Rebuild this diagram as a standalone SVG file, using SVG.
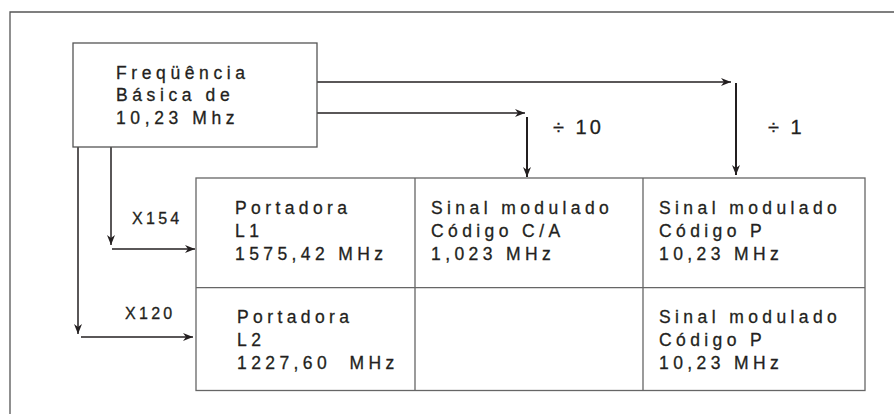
<svg xmlns="http://www.w3.org/2000/svg" width="894" height="414" viewBox="0 0 894 414">
<style>
.frame{fill:none;stroke:#555;stroke-width:1.3}
.box{fill:#fff;stroke:#555;stroke-width:1.3}
.grid{fill:none;stroke:#666;stroke-width:1.3}
.con{fill:none;stroke:#231f20;stroke-width:1.5}
.vcon{fill:none;stroke:#231f20;stroke-width:2}
text{font-family:"Liberation Sans",Arial,sans-serif;fill:#231f20;stroke:#231f20;stroke-width:0.3;white-space:pre}
.t{font-size:17.5px;letter-spacing:4.4px}
.tb{font-size:17.5px;letter-spacing:4.6px}
.lbl{font-size:16px;letter-spacing:3.3px}
.div{font-size:20px;letter-spacing:3px}
</style>
<defs>
<marker id="ah" markerUnits="userSpaceOnUse" markerWidth="12" markerHeight="10" refX="10" refY="4" orient="auto">
<path d="M0,0 L10,4 L0,8 L3,4 z" fill="#231f20"/>
</marker>
</defs>
<path class="frame" d="M10,414 V12 H894"/>
<g id="connectors">
<path class="con" d="M317,82 H731" marker-end="url(#ah)"/>
<path class="vcon" d="M736,83 V175" marker-end="url(#ah)"/>
<path class="con" d="M317,113 H525" marker-end="url(#ah)"/>
<path class="vcon" d="M527,117 V177" marker-end="url(#ah)"/>
<path class="con" d="M111,147 V245" marker-end="url(#ah)"/>
<path class="con" d="M78,147 V334" marker-end="url(#ah)"/>
<path class="con" d="M112,249 H195" marker-end="url(#ah)"/>
<path class="con" d="M81,337 H193" marker-end="url(#ah)"/>
<text class="div" x="553" y="134">÷ 10</text>
<text class="div" x="768" y="134">÷ 1</text>
<text class="lbl" x="132" y="224">X154</text>
<text class="lbl" x="125" y="319">X120</text>
</g>
<g id="source">
<rect class="box" x="73" y="43" width="244" height="104"/>
<text class="tb" x="116" y="78.5">Freqüência</text>
<text class="tb" x="116" y="101">Básica de</text>
<text class="tb" x="116" y="124">10,23 Mhz</text>
</g>
<g id="table">
<rect class="grid" x="196" y="178" width="669" height="212.5"/>
<path class="grid" d="M196,287.7 H865 M415,178 V390.5 M643,178 V390.5"/>
</g>
<g id="l1">
<text class="t" x="235" y="214">Portadora</text>
<text class="t" x="235" y="237">L1</text>
<text class="t" x="235" y="260">1575,42 MHz</text>
</g>
<g id="ca">
<text class="t" x="431" y="214">Sinal modulado</text>
<text class="t" x="431" y="237">Código C/A</text>
<text class="t" x="431" y="260">1,023 MHz</text>
</g>
<g id="p1">
<text class="t" x="659" y="214">Sinal modulado</text>
<text class="t" x="659" y="237">Código P</text>
<text class="t" x="659" y="260">10,23 MHz</text>
</g>
<g id="l2">
<text class="t" x="237" y="322.5">Portadora</text>
<text class="t" x="237" y="345.5">L2</text>
<text class="t" x="237" y="368.5">1227,60  MHz</text>
</g>
<g id="p2">
<text class="t" x="659" y="322.5">Sinal modulado</text>
<text class="t" x="659" y="345.5">Código P</text>
<text class="t" x="659" y="368.5">10,23 MHz</text>
</g>
</svg>
